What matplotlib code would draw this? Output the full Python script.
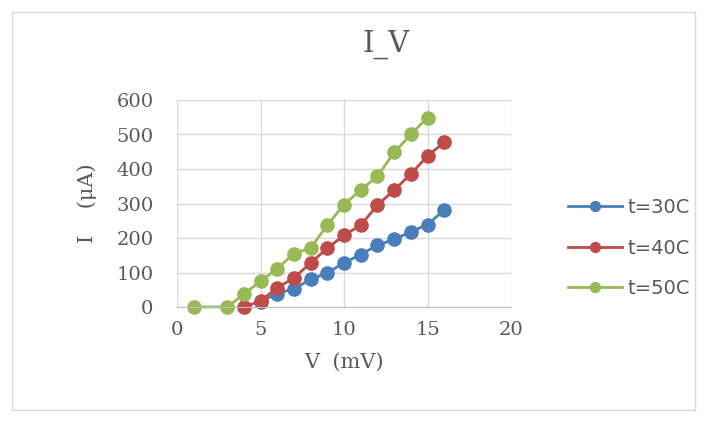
import matplotlib
matplotlib.use('Agg')
import matplotlib.pyplot as plt
from matplotlib.patches import Rectangle

# data
v30 = [5, 6, 7, 8, 9, 10, 11, 12, 13, 14, 15, 16]
i30 = [15, 39, 53, 80, 99, 128, 152, 179, 196, 218, 239, 281]
v40 = [4, 5, 6, 7, 8, 9, 10, 11, 12, 13, 14, 15, 16]
i40 = [0, 17, 56, 84, 128, 170, 208, 237, 295, 339, 385, 438, 477]
v50 = [1, 3, 4, 5, 6, 7, 8, 9, 10, 11, 12, 13, 14, 15]
i50 = [0, 0, 37, 75, 111, 155, 171, 237, 297, 339, 379, 448, 500, 549]

labels = ['t=30C', 't=40C', 't=50C']
colors = ['#4A7EBB', '#BE4B48', '#98B954']
grey = '#595959'

fig = plt.figure(figsize=(7.06, 4.23), dpi=100)
fig.patches.append(Rectangle((12 / 706, 1 - 410 / 423), 683 / 706, 398 / 423,
                             transform=fig.transFigure, fill=False,
                             edgecolor='#D9D9D9', linewidth=1))
ax = fig.add_axes([177 / 706, 1 - 307 / 423, 334 / 706, 207 / 423])

for v, i, lab, c in zip([v30, v40, v50], [i30, i40, i50], labels, colors):
    ax.plot(v, i, color=c, linewidth=2, marker='o', markersize=9.5,
            label=lab, clip_on=False)

ax.set_xlim(0, 20)
ax.set_ylim(0, 600)
ax.set_xticks([0, 5, 10, 15, 20])
ax.set_yticks(range(0, 601, 100))
ax.grid(True, color='#D9D9D9', linewidth=1)
ax.set_axisbelow(True)
for s in ['top', 'right', 'left']:
    ax.spines[s].set_visible(False)
ax.spines['bottom'].set_color('#BFBFBF')
ax.tick_params(length=0, labelsize=14, labelcolor=grey)
ax.tick_params(axis='y', pad=17)
ax.tick_params(axis='x', pad=10)
for t in ax.get_xticklabels() + ax.get_yticklabels():
    t.set_family('DejaVu Serif')

fig.text(386 / 706, 1 - 44 / 423, 'I_V', fontsize=21, family='DejaVu Serif',
         color=grey, ha='center', va='center')
ax.set_xlabel('V  (mV)', fontsize=15, family='DejaVu Serif', color=grey, labelpad=10)
ax.set_ylabel('I    (μA)', fontsize=15, family='DejaVu Serif', color=grey, labelpad=14)

leg = fig.legend(loc='center left', bbox_to_anchor=(568 / 706, 1 - 248 / 423),
                 frameon=False, fontsize=14, labelspacing=1.1, handlelength=2.8,
                 handletextpad=0.25, borderpad=0, borderaxespad=0, markerscale=0.75)
for t in leg.get_texts():
    t.set_color(grey)

fig.savefig('out.png', dpi=100)
